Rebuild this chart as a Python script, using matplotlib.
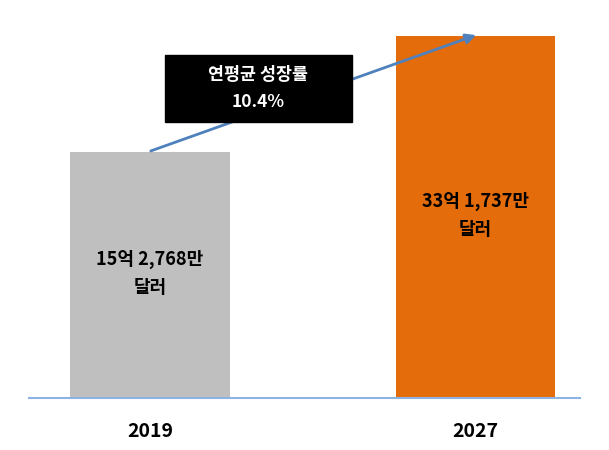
import matplotlib
matplotlib.use('Agg')
import matplotlib.pyplot as plt
from matplotlib.patches import Rectangle

plt.rcParams['font.family'] = ['Noto Sans CJK KR', 'DejaVu Sans']

years = ['2019', '2027']
values = [15.2768, 33.1737]   # 억 달러
labels = ['15억 2,768만\n달러', '33억 1,737만\n달러']
colors = ['#bfbfbf', '#e46c0a']
cagr_text = '연평균 성장률\n10.4%'

# chart is not drawn to scale; bars start from a hidden offset below zero
offset = 22.75

fig = plt.figure(figsize=(6.09, 4.5), dpi=100)
ax = fig.add_axes([0, 0, 1, 1])
ax.set_xlim(-0.46, 1.41)
ax.set_ylim(-30.79, 38.78)
ax.axis('off')

x = [0, 1]
ax.bar(x, [v + offset for v in values], bottom=-offset, width=0.49, color=colors)
ax.plot([-0.37, 1.32], [-offset, -offset], color='#8db3e2', lw=1.5)

for xi, yr in zip(x, years):
    ax.text(xi, -offset - 5.2, yr, ha='center', va='center', fontsize=14, fontweight='bold')

ax.text(0, -3.5, labels[0], ha='center', va='center', fontsize=13, fontweight='bold', linespacing=1.6)
ax.text(1, 5.4, labels[1], ha='center', va='center', fontsize=13, fontweight='bold', linespacing=1.6)

ax.annotate('', xy=(1.01, 33.5), xytext=(-0.005, 15.3),
            arrowprops=dict(arrowstyle='-|>', color='#4f81bd', lw=2, mutation_scale=15))
ax.add_patch(Rectangle((0.046, 19.92), 0.574, 10.36, fc='black', ec='black', zorder=3))
ax.text(0.333, 25.1, cagr_text, ha='center', va='center', color='white', fontsize=12.5,
        fontweight='bold', linespacing=1.7, zorder=4)

fig.savefig('out.png', dpi=100)
